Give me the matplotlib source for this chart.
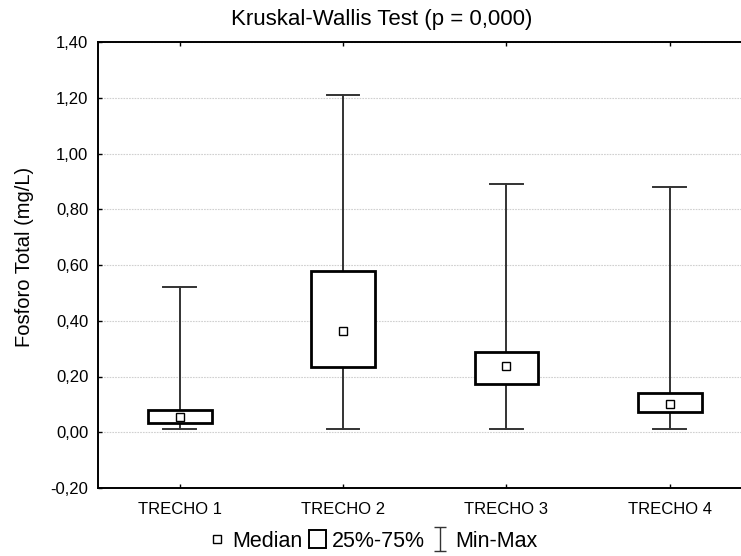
import matplotlib
matplotlib.use("Agg")
import matplotlib.pyplot as plt
from matplotlib.lines import Line2D
from matplotlib.patches import Rectangle
from matplotlib.path import Path

plt.rcParams['font.family'] = ['Liberation Sans', 'DejaVu Sans']

categories = ["TRECHO 1", "TRECHO 2", "TRECHO 3", "TRECHO 4"]
minimum = [0.01, 0.01, 0.01, 0.01]
q25 = [0.033, 0.233, 0.173, 0.073]
median = [0.055, 0.364, 0.239, 0.102]
q75 = [0.079, 0.579, 0.287, 0.140]
maximum = [0.52, 1.21, 0.89, 0.88]
yticks = [-0.2, 0.0, 0.2, 0.4, 0.6, 0.8, 1.0, 1.2, 1.4]

W, H = 741, 556
fig = plt.figure(figsize=(W / 100, H / 100), dpi=100)
left, right, top, bottom = 98, 751.5, 42, 488
ax = fig.add_axes([left / W, 1 - bottom / H, (right - left) / W, (bottom - top) / H])

xs = list(range(1, len(categories) + 1))
bw = 0.39
cap = 0.2
wc = '#333333'
for x, mn, a, m, b, mx in zip(xs, minimum, q25, median, q75, maximum):
    ax.plot([x, x], [b, mx], color=wc, lw=1.4, zorder=2)
    ax.plot([x, x], [mn, a], color=wc, lw=1.4, zorder=2)
    ax.plot([x - cap / 2, x + cap / 2], [mx, mx], color=wc, lw=1.4, zorder=2)
    ax.plot([x - cap / 2, x + cap / 2], [mn, mn], color=wc, lw=1.4, zorder=2)
    ax.add_patch(Rectangle((x - bw / 2, a), bw, b - a, facecolor='white',
                           edgecolor='black', lw=2.0, zorder=3))
    ax.plot([x], [m], marker='s', ms=5.5, mfc='white', mec='black', mew=1.0,
            ls='none', zorder=4)

ax.set_xlim(0.5, 4.5)
ax.set_ylim(-0.2, 1.4)
ax.set_yticks(yticks)
ax.set_yticklabels([f"{v:.2f}".replace('.', ',').replace('-0,00', '0,00') for v in yticks])
ax.set_xticks(xs)
ax.set_xticklabels(categories)
ax.tick_params(axis='both', direction='in', length=3, width=1, labelsize=12,
               top=True, bottom=True, left=True, right=False, colors='black')
ax.tick_params(axis='x', pad=10)
ax.tick_params(axis='y', pad=7)
ax.yaxis.grid(True, color='#d0d0d0', ls=(0, (1.5, 1)), lw=0.8)
ax.set_axisbelow(True)
for s in ax.spines.values():
    s.set_linewidth(1.4)

fig.text(25 / W, 1 - 257 / H, "Fosforo Total (mg/L)", fontsize=14.5,
         rotation=90, ha='center', va='center')
fig.text(382 / W, 1 - 20 / H, "Kruskal-Wallis Test (p = 0,000)", fontsize=16,
         ha='center', va='center')

ibeam = Path([(-0.5, 1), (0.5, 1), (0, 1), (0, -1), (-0.5, -1), (0.5, -1)],
             [Path.MOVETO, Path.LINETO, Path.MOVETO, Path.LINETO, Path.MOVETO, Path.LINETO])
handles = [
    Line2D([], [], marker='s', ls='none', mfc='white', mec='black', ms=6, mew=1.0),
    Rectangle((0, 0), 1, 1, facecolor='white', edgecolor='black', lw=1.4),
    Line2D([], [], marker=ibeam, ls='none', mec='#333333', ms=17, mew=1.0),
]
fig.legend(handles, ["Median", "25%-75%", "Min-Max"], loc='center',
           bbox_to_anchor=(373 / W, 1 - 541 / H), ncol=3, frameon=False,
           fontsize=15.5, handlelength=0.8, handleheight=0.9, handletextpad=0.3,
           columnspacing=0.3, borderpad=0)

fig.savefig("out.png", dpi=100)
